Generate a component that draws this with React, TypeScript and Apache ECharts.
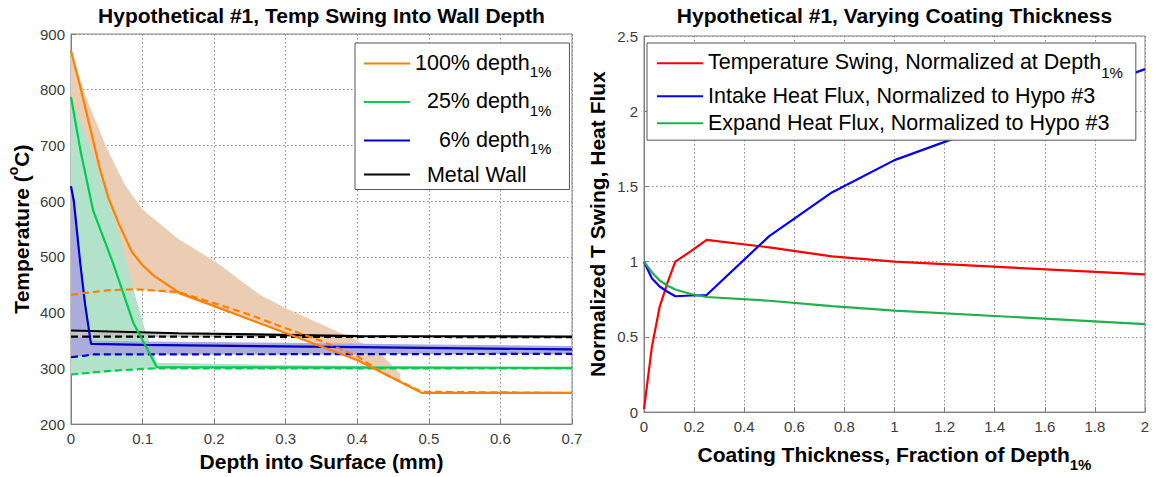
import React, { useEffect, useRef } from "react";
import * as echarts from "echarts";

const FONT = 'Arial, "Liberation Sans", Helvetica, sans-serif';

// ---------- Left chart: Temp swing into wall depth ----------
const o100X = [0, 0.013, 0.027, 0.04, 0.052, 0.066, 0.085, 0.1, 0.117, 0.152, 0.4, 0.49, 0.7];
const o100Y = [870, 805, 730, 660, 607, 562, 509, 485, 465, 435, 315, 256, 256];
const o100DashX = [0, 0.05, 0.09, 0.15, 0.2, 0.25, 0.3, 0.35, 0.4, 0.432, 0.49, 0.7];
const o100DashY = [432, 440, 442, 437, 417, 396, 372, 349, 322, 294, 258, 256];

const g25X = [0, 0.0135, 0.031, 0.059, 0.087, 0.12, 0.7];
const g25Y = [787, 689, 583, 488, 382, 302, 301];
const g25DashX = [0, 0.05, 0.1, 0.12, 0.7];
const g25DashY = [289, 295, 299, 300, 300];

const b6X = [0, 0.004, 0.013, 0.02, 0.028, 0.1, 0.4, 0.7];
const b6Y = [627, 600, 488, 412, 344, 342, 338, 334];
const b6DashX = [0, 0.02, 0.03, 0.7];
const b6DashY = [320, 323, 325, 326];

const wallX = [0, 0.15, 0.4, 0.7];
const wallY = [368, 363, 358, 357];
const wallDashX = [0, 0.7];
const wallDashY = [357, 356];

// swing envelopes (lower / upper)
const oBandX = [0, 0.02, 0.05, 0.075, 0.1, 0.15, 0.2, 0.264, 0.3, 0.348, 0.4, 0.43, 0.46];
const oBandLo = [432, 437, 440, 441, 441, 432, 410, 383, 363, 340, 312, 296, 278];
const oBandHi = [870, 790, 695, 630, 585, 532, 493, 432, 408, 380, 350, 330, 290];

const gBandX = [0, 0.02, 0.04, 0.05, 0.066, 0.078, 0.09, 0.103, 0.12, 0.3, 0.5, 0.7];
const gBandLo = [288, 290, 292, 293, 295, 297, 298, 299, 300, 300, 300, 300];
const gBandHi = [785, 720, 650, 607, 548, 488, 430, 371, 310, 306, 304, 302];

const bBandX = [0, 0.004, 0.013, 0.02, 0.028, 0.1, 0.3, 0.5, 0.7];
const bBandLo = [320, 321, 322, 323, 324, 325, 325, 326, 326];
const bBandHi = [627, 600, 488, 412, 350, 348, 346, 343, 340];

const kBandX = [0, 0.15, 0.4, 0.7];
const kBandLo = [356, 356, 356, 356];
const kBandHi = [368, 363, 358, 357];

// ---------- Right chart: varying coating thickness ----------
const thickX = [0, 0.03125, 0.0625, 0.09375, 0.125, 0.1875, 0.25, 0.5, 0.75, 1, 2];
const tempSwing = [0.02, 0.43, 0.7, 0.86, 1.0, 1.07, 1.145, 1.095, 1.035, 1.0, 0.915];
const intakeFlux = [1.0, 0.89, 0.835, 0.8, 0.77, 0.775, 0.778, 1.17, 1.46, 1.675, 2.28];
const expandFlux = [1.0, 0.93, 0.875, 0.84, 0.815, 0.785, 0.765, 0.74, 0.705, 0.675, 0.585];

const leftNames = ["100% depth", "25% depth", "6% depth", "Metal Wall"];
const rightNames = [
  "Temperature Swing, Normalized at Depth",
  "Intake Heat Flux, Normalized to Hypo #3",
  "Expand Heat Flux, Normalized to Hypo #3",
];

const C_OR = "#FF8000";
const C_GR = "#00CC4E";
const C_BL = "#0000CC";
const C_K = "#000000";
const C_RED = "#FF0000";
const C_BLUE = "#0000FF";
const C_GREEN = "#20B04C";

const pairs = (xs: number[], ys: number[]) => xs.map((x, i) => [x, ys[i]]);

function band(xs: number[], lo: number[], hi: number[], color: string) {
  return {
    type: "custom",
    xAxisIndex: 0,
    yAxisIndex: 0,
    silent: true,
    z: 1,
    data: xs.map((x, i) => [x, lo[i], hi[i]]),
    encode: { x: 0, y: [1, 2] },
    renderItem: (params: any, api: any) => {
      if (params.dataIndex !== 0) return null;
      const top = xs.map((x, i) => api.coord([x, hi[i]]));
      const bot = xs.map((x, i) => api.coord([x, lo[i]])).reverse();
      return {
        type: "polygon",
        silent: true,
        shape: { points: top.concat(bot) },
        style: { fill: color, stroke: "none" },
      };
    },
  };
}

function line(name: string | undefined, xs: number[], ys: number[], color: string, dashed: boolean, ax: number) {
  const s: any = {
    type: "line", data: pairs(xs, ys), symbol: "none", showSymbol: false, silent: true,
    lineStyle: { color, width: 2.2, type: dashed ? [7, 4] : "solid" },
    itemStyle: { color }, color,
    xAxisIndex: ax, yAxisIndex: ax, z: 2,
  };
  if (name) s.name = name;
  return s;
}

const fmt = (v: number) => String(Math.round(v * 10) / 10);

const axisCommon = {
  axisLine: { show: true, lineStyle: { color: "#808080", width: 1 } },
  axisTick: { show: true, inside: true, length: 5, lineStyle: { color: "#808080" } },
  splitLine: { show: true, lineStyle: { color: "#8a8a8a", width: 1, type: [1.5, 2.5] } },
};
const labelCommon = { fontSize: 15, color: "#3c3c3c", fontFamily: FONT };
const nameCommon = { fontSize: 21, fontWeight: "bold", color: "#000", fontFamily: FONT };

const leftRich: Record<string, string> = {
  "100% depth": "{m|100% depth}{s|1%}",
  "25% depth": "{m|\u00a0\u00a025% depth}{s|1%}",
  "6% depth": "{m|\u00a0\u00a0\u00a0\u00a06% depth}{s|1%}",
  "Metal Wall": "{p|\u00a0\u00a0Metal Wall}",
};
const rightRich: Record<string, string> = {
  [rightNames[0]]: "{m|" + rightNames[0] + "}{s|1%}",
  [rightNames[1]]: "{p|" + rightNames[1] + "}",
  [rightNames[2]]: "{p|" + rightNames[2] + "}",
};

const option: any = {
  animation: false,
  backgroundColor: "#ffffff",
  title: [
    {
      text: "Hypothetical #1, Temp Swing Into Wall Depth", left: 321.5, top: 5, textAlign: "center", padding: 0,
      textStyle: { fontSize: 21, fontWeight: "bold", color: "#000", fontFamily: FONT },
    },
    {
      text: "Hypothetical #1, Varying Coating Thickness", left: 894.5, top: 5, textAlign: "center", padding: 0,
      textStyle: { fontSize: 21, fontWeight: "bold", color: "#000", fontFamily: FONT },
    },
  ],
  legend: [
    {
      orient: "vertical", left: 355, top: 43, padding: [5, 18, 4, 9], itemGap: 7.5,
      itemWidth: 46, itemHeight: 2, icon: "rect", selectedMode: false,
      borderColor: "#555", borderWidth: 1, backgroundColor: "#fff",
      data: leftNames,
      formatter: (n: string) => leftRich[n],
      textStyle: {
        fontFamily: FONT, fontSize: 21.5, color: "#000",
        rich: {
          m: { fontFamily: FONT, fontSize: 21.5, color: "#000", lineHeight: 24, verticalAlign: "top" },
          s: { fontFamily: FONT, fontSize: 15, color: "#000", lineHeight: 14, padding: [16, 0, 0, 0] },
          p: { fontFamily: FONT, fontSize: 21.5, color: "#000", lineHeight: 25 },
        },
      },
    },
    {
      orient: "vertical", left: 647, top: 43, padding: [3.2, 13, 6, 10], itemGap: 5,
      itemWidth: 46, itemHeight: 2, icon: "rect", selectedMode: false,
      borderColor: "#555", borderWidth: 1, backgroundColor: "#fff",
      data: rightNames,
      formatter: (n: string) => rightRich[n],
      textStyle: {
        fontFamily: FONT, fontSize: 21.5, color: "#000",
        rich: {
          m: { fontFamily: FONT, fontSize: 21.5, color: "#000", lineHeight: 24, verticalAlign: "top" },
          s: { fontFamily: FONT, fontSize: 15, color: "#000", lineHeight: 14, padding: [19, 0, 0, 0] },
          p: { fontFamily: FONT, fontSize: 21.5, color: "#000", lineHeight: 24 },
        },
      },
    },
  ],
  grid: [
    { left: 71, top: 34, width: 501, height: 396, show: true, borderColor: "#808080", borderWidth: 1, backgroundColor: "#fff" },
    { left: 644, top: 36, width: 501, height: 387, show: true, borderColor: "#808080", borderWidth: 1, backgroundColor: "#fff" },
  ],
  xAxis: [
    {
      type: "value", gridIndex: 0, min: 0, max: 0.7, interval: 0.1, ...axisCommon,
      axisLabel: { ...labelCommon, margin: 7, formatter: fmt },
      name: "Depth into Surface (mm)", nameLocation: "middle", nameGap: 25.5, nameTextStyle: nameCommon,
    },
    {
      type: "value", gridIndex: 1, min: 0, max: 2, interval: 0.2, ...axisCommon,
      axisLabel: { ...labelCommon, margin: 7, formatter: fmt },
      name: "{a|Coating Thickness, Fraction of Depth}{s|1%}", nameLocation: "middle", nameGap: 24.3,
      nameTextStyle: {
        ...nameCommon,
        rich: {
          a: { ...nameCommon, lineHeight: 24, verticalAlign: "top" },
          s: { ...nameCommon, fontSize: 15, lineHeight: 14, padding: [18, 0, 0, 0] },
        },
      },
    },
  ],
  yAxis: [
    {
      type: "value", gridIndex: 0, min: 200, max: 900, interval: 100, ...axisCommon,
      axisLabel: { ...labelCommon, margin: 6 },
      name: "{a|Temperature (}{o|o}{a|C)}", nameLocation: "middle", nameGap: 34.3,
      nameTextStyle: {
        ...nameCommon,
        rich: {
          a: { ...nameCommon, lineHeight: 26 },
          o: { fontFamily: FONT, fontSize: 14, color: "#000", lineHeight: 14, padding: [0, 0, 16, 0] },
        },
      },
    },
    {
      type: "value", gridIndex: 1, min: 0, max: 2.5, interval: 0.5, ...axisCommon,
      axisLabel: { ...labelCommon, margin: 6, formatter: fmt },
      name: "Normalized T Swing, Heat Flux", nameLocation: "middle", nameGap: 36.5, nameTextStyle: nameCommon,
    },
  ],
  series: [
    band(oBandX, oBandLo, oBandHi, "#EBCDB3"),
    band(gBandX, gBandLo, gBandHi, "#B2E3CA"),
    band(bBandX, bBandLo, bBandHi, "#ABABDD"),
    band(kBandX, kBandLo, kBandHi, "#C4C4C4"),
    line(undefined, wallDashX, wallDashY, C_K, true, 0),
    line(leftNames[3], wallX, wallY, C_K, false, 0),
    line(undefined, b6DashX, b6DashY, C_BL, true, 0),
    line(leftNames[2], b6X, b6Y, C_BL, false, 0),
    line(undefined, g25DashX, g25DashY, C_GR, true, 0),
    line(leftNames[1], g25X, g25Y, C_GR, false, 0),
    line(undefined, o100DashX, o100DashY, C_OR, true, 0),
    line(leftNames[0], o100X, o100Y, C_OR, false, 0),
    line(rightNames[0], thickX, tempSwing, C_RED, false, 1),
    line(rightNames[1], thickX, intakeFlux, C_BLUE, false, 1),
    line(rightNames[2], thickX, expandFlux, C_GREEN, false, 1),
  ],
};

export default function App() {
  const ref = useRef<HTMLDivElement>(null);
  useEffect(() => {
    if (!ref.current) return;
    const chart = echarts.init(ref.current, undefined, { renderer: "svg" });
    chart.setOption(option);
    return () => chart.dispose();
  }, []);
  return (
    <div
      ref={ref}
      style={{ position: "absolute", left: 0, top: 0, width: 1154, height: 477, background: "#fff" }}
    />
  );
}
